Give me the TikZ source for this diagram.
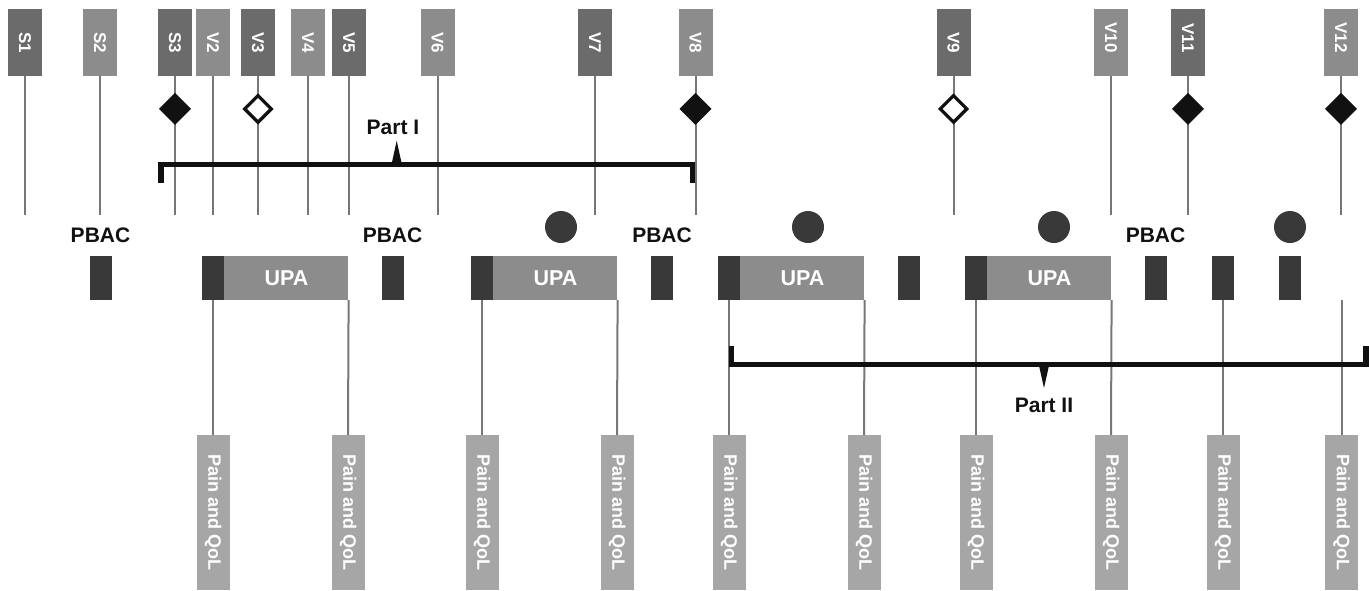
\documentclass[tikz,border=0pt]{standalone}
\usepackage{fontspec}
\setmainfont{Liberation Sans}
\usepackage{tikz}
\usetikzlibrary{positioning,shapes.geometric}
\definecolor{darkc}{HTML}{6B6B6B}
\definecolor{lightc}{HTML}{8C8C8C}
\definecolor{blockc}{HTML}{393939}
\definecolor{painc}{HTML}{A6A6A6}
\definecolor{stemc}{HTML}{777777}
\definecolor{inkc}{HTML}{111111}
\tikzset{
  vb/.style={rectangle,minimum width=34pt,minimum height=67pt,inner sep=0pt},
  vl/.style={rotate=-90,anchor=east,inner sep=0pt,text=white,font=\fontsize{17}{17}\selectfont\bfseries},
  st/.style={stemc,line width=2pt},
  dmf/.style={diamond,fill=inkc,draw=inkc,line width=1pt,minimum size=31pt,inner sep=0pt},
  dmo/.style={diamond,fill=white,draw=inkc,line width=3.2pt,minimum size=28pt,inner sep=0pt},
  pb/.style={rectangle,fill=blockc,minimum width=22pt,minimum height=44pt,inner sep=0pt},
  up/.style={rectangle,fill=lightc,minimum width=124pt,minimum height=44pt,inner sep=0pt,text=white,font=\fontsize{21.5}{21.5}\selectfont\bfseries},
  pl/.style={inner sep=0pt,text=inkc,font=\fontsize{21}{21}\selectfont\bfseries},
  dot/.style={circle,fill=blockc,minimum size=32pt,inner sep=0pt},
  pq/.style={rectangle,rotate=-90,fill=painc,minimum width=155pt,minimum height=33pt,inner sep=0pt,text=white,font=\fontsize{18}{18}\selectfont\bfseries},
  br/.style={inkc,line width=5.2pt},
  pt/.style={inner sep=0pt,text=inkc,font=\fontsize{21}{21}\selectfont\bfseries}
}
\begin{document}
\begin{tikzpicture}[x=1pt,y=-1pt]
\path[use as bounding box,fill=white] (0,0) rectangle (1369,590);
\foreach \x/\n/\c in {25/S1/darkc,100/S2/lightc,175/S3/darkc,213/V2/lightc,258/V3/darkc,308/V4/lightc,349/V5/darkc,437.5/V6/lightc,595/V7/darkc,695.5/V8/lightc,953.5/V9/darkc,1111/V10/lightc,1188/V11/darkc,1341/V12/lightc}{
  \node[vb,fill=\c] (\n) at (\x,42.5) {};
  \node[vl] (\n-t) at (\x,53) {\n};
  \coordinate (\n-e) at (\x,215);
  \draw[st] (\n.south) -- (\n-e);}
\foreach \n/\s in {S3/dmf,V3/dmo,V8/dmf,V9/dmo,V11/dmf,V12/dmf}{
  \node[\s] (d\n) at ([yshift=-32.7pt]\n.south) {};}
\coordinate (b1a) at (161,183.3); \coordinate (b1b) at (161,164.5);
\coordinate (b1c) at (692.5,164.5); \coordinate (b1d) at (692.5,183.3);
\draw[br] (b1a)--(b1b)--(b1c)--(b1d);
\fill[inkc] (391.5,164.5)--(396.7,140.7)--(401.9,164.5)--cycle;
\node[pt] (part1) at (393,127.5) {Part I};
\node[pb] (p1) at (100.5,278) {}; \node[pl,above=12.5pt of p1] (l1) {PBAC};
\node[pb] (p2) at (392.5,278) {}; \node[pl,above=12.5pt of p2] (l2) {PBAC};
\node[pb] (p3) at (662,278) {}; \node[pl,above=12.5pt of p3] (l3) {PBAC};
\node[pb] (p4) at (1155.5,278) {}; \node[pl,above=12.5pt of p4] (l4) {PBAC};
\node[pb] (d1) at (213,278) {}; \node[up,right=0pt of d1] (u1) {UPA};
\node[pb] (d2) at (482,278) {}; \node[up,right=0pt of d2] (u2) {UPA};
\node[pb] (d3) at (729,278) {}; \node[up,right=0pt of d3] (u3) {UPA};
\node[pb] (d4) at (976,278) {}; \node[up,right=0pt of d4] (u4) {UPA};
\node[pb] (b1) at (909,278) {};
\node[pb] (b2) at (1223,278) {};
\node[pb] (b3) at (1290,278) {};
\coordinate (e12) at (1341.5,300);
\node[dot] (c1) at (561,227) {}; \node[dot] (c2) at (808,227) {};
\node[dot] (c3) at (1054,227) {}; \node[dot] (c4) at (1290,227) {};
\foreach \i/\x in {1/213,2/348,3/482,4/617,5/729,6/864,7/976,8/1111,9/1223,10/1341.5}{
  \node[pq] (q\i) at (\x,512.5) {Pain and QoL};}
\draw[st] (d1.south)--(q1.west); \draw[st] (u1.south east)--(q2.west);
\draw[st] (d2.south)--(q3.west); \draw[st] (u2.south east)--(q4.west);
\draw[st] (d3.south)--(q5.west); \draw[st] (u3.south east)--(q6.west);
\draw[st] (d4.south)--(q7.west); \draw[st] (u4.south east)--(q8.west);
\draw[st] (b2.south)--(q9.west); \draw[st] (e12)--(q10.west);
\coordinate (b2a) at (731.7,346); \coordinate (b2b) at (731.7,364.8);
\coordinate (b2c) at (1366,364.8); \coordinate (b2d) at (1366,346);
\draw[br] (b2a)--(b2b)--(b2c)--(b2d);
\fill[inkc] (1038.8,364.8)--(1044,388)--(1049.2,364.8)--cycle;
\node[pt] (part2) at (1044,405.5) {Part II};
\end{tikzpicture}
\end{document}
